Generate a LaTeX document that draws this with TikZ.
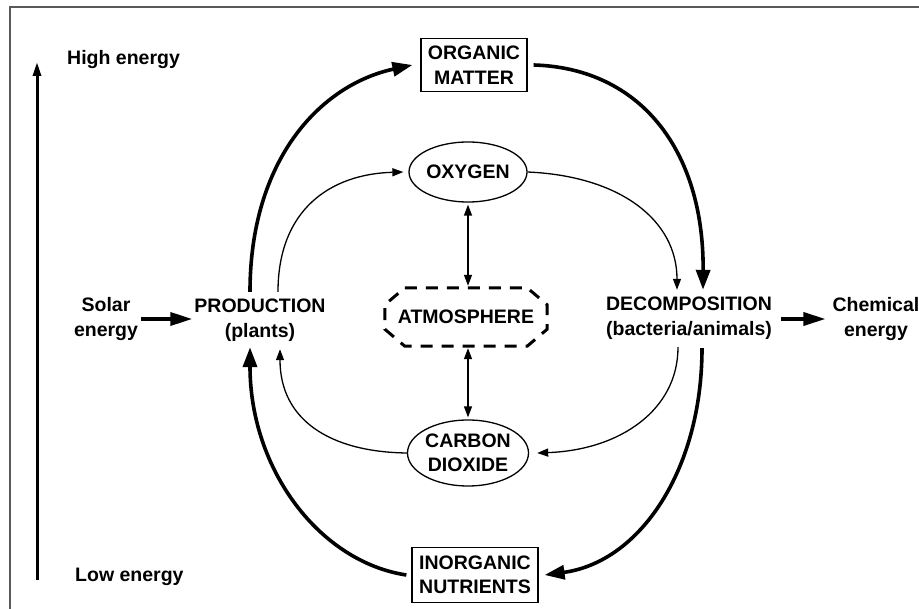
\documentclass[tikz,border=0pt]{standalone}
\usepackage{fontspec}
\setmainfont{Liberation Sans}
\usetikzlibrary{arrows.meta,shapes.geometric,calc}
\begin{document}
\begin{tikzpicture}[x=1pt,y=-1pt,
  lbl/.style={font=\fontsize{19.5}{24.5}\selectfont\bfseries, align=center, inner sep=0pt},
  boxnode/.style={lbl, draw, line width=1.2pt},
  ellnode/.style={lbl, ellipse, draw, line width=1.3pt},
  bigarr/.style={line width=3.6pt, -{Triangle[length=20pt,width=14pt]}},
  medarr/.style={line width=3.6pt, -{Triangle[length=22pt,width=13pt]}},
  thinarr/.style={line width=1.3pt, -{Triangle[length=11pt,width=8pt]}},
  dblarr/.style={line width=1.3pt, {Triangle[length=11pt,width=8pt]}-{Triangle[length=11pt,width=8pt]}},
  atmline/.style={line width=3pt, dash pattern=on 12pt off 9pt},
  framel/.style={draw=black!65, line width=1.2pt}
]
\useasboundingbox (0,0) rectangle (919,609);
\fill[white] (0,0) rectangle (919,609);
\draw[framel] (10,609) -- (10,7) -- (919,7);

% energy axis
\coordinate (lowend) at (37,580);
\coordinate (highend) at (37,62);
\draw[line width=3pt, -{Triangle[length=14pt,width=8pt]}] (lowend) -- (highend);
\node[lbl, anchor=west] (high) at (67,60) {High energy};
\node[lbl, anchor=west] (low) at (75,577) {Low energy};

% nodes
\node[boxnode, minimum width=106pt, minimum height=53pt] (org) at (474,65) {ORGANIC\\MATTER};
\node[ellnode, minimum width=114pt, minimum height=60pt] (oxy) at (468,172) {OXYGEN};
\node[lbl, minimum width=162pt, minimum height=58pt] (atm) at (466,317) {ATMOSPHERE};
\node[ellnode, minimum width=115pt, minimum height=66pt] (co2) at (468,453) {CARBON\\DIOXIDE};
\node[boxnode, minimum width=126pt, minimum height=55pt] (inorg) at (475,575) {INORGANIC\\NUTRIENTS};
\node[lbl, minimum height=52pt] (prod) at (260,320) {PRODUCTION\\(plants)};
\node[lbl, minimum height=52pt] (dec) at (689,318) {DECOMPOSITION\\(bacteria/animals)};
\node[lbl] (solar) at (106,319) {Solar\\energy};
\node[lbl] (chem) at (876,319) {Chemical\\energy};

% atmosphere dashed outline
\draw[atmline] ($(atm.north west)+(20,0)$) -- ($(atm.north east)+(-20,0)$)
  -- ($(atm.north east)+(0,17)$) -- ($(atm.south east)+(0,-17)$)
  -- ($(atm.south east)+(-20,0)$) -- ($(atm.south west)+(20,0)$)
  -- ($(atm.south west)+(0,-17)$) -- ($(atm.north west)+(0,17)$) -- cycle;

% energy in / out
\draw[medarr] ([xshift=3pt]solar.east) -- ([xshift=-2pt]prod.west |- solar.east);
\draw[medarr] ([xshift=9pt]dec.east |- chem.west) -- ([xshift=-7pt]chem.west);

% big cycle
\draw[bigarr] ([xshift=-10pt,yshift=2pt]prod.north) .. controls (250,160) and (320,85) .. ([xshift=-8pt]org.west);
\draw[bigarr] ([xshift=6pt]org.east) .. controls (640,68) and (704,150) .. ([xshift=14pt,yshift=2pt]dec.north);
\draw[bigarr] ([xshift=13pt,yshift=-4pt]dec.south) .. controls (702,470) and (640,562) .. ([xshift=6pt]inorg.east);
\draw[bigarr] ([xshift=-5pt]inorg.west) .. controls (320,562) and (250,470) .. ([xshift=-10pt,yshift=-1pt]prod.south);

% gas cycle
\draw[thinarr] ([xshift=18pt,yshift=2pt]prod.north) .. controls (278,210) and (330,174) .. ([xshift=-5pt]oxy.west);
\draw[thinarr] (oxy.east) .. controls (620,176) and (677,220) .. ([xshift=-12pt,yshift=2pt]dec.north);
\draw[thinarr] ([xshift=-11pt,yshift=-3pt]dec.south) .. controls (678,410) and (620,450) .. ([xshift=8pt]co2.east);
\draw[thinarr] (co2.west) .. controls (330,452) and (280,420) .. ([xshift=20pt,yshift=-3pt]prod.south);

% exchange with atmosphere
\draw[dblarr] ([yshift=-2pt]oxy.south) -- ([yshift=2pt]oxy.south |- atm.north);
\draw[dblarr] ([yshift=-2pt]co2.north |- atm.south) -- ([yshift=2pt]co2.north);
\end{tikzpicture}
\end{document}
